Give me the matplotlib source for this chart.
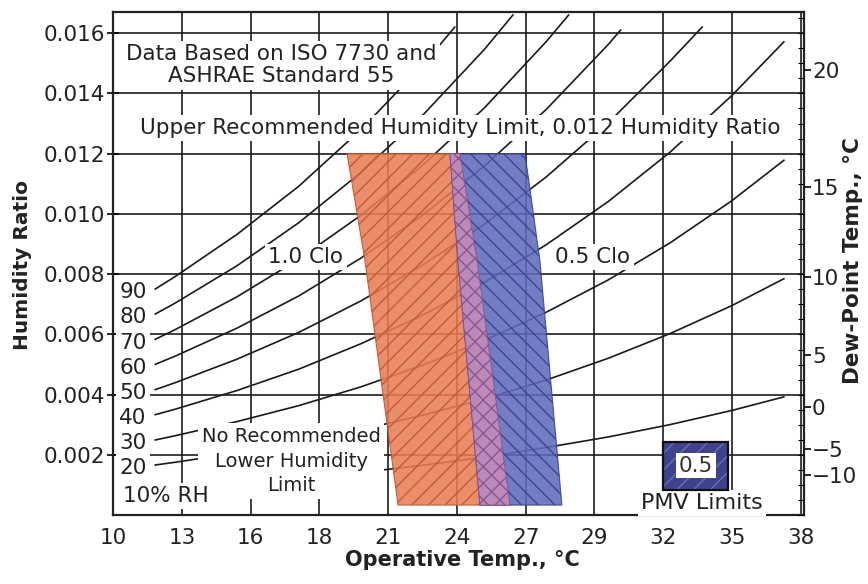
import matplotlib.pyplot as plt
from matplotlib.patches import Polygon, Rectangle
from matplotlib.ticker import MultipleLocator

plt.rcParams['font.family'] = ['DejaVu Sans']
plt.rcParams['hatch.linewidth'] = 1.0

# x grid is the 50..100 F grid, labelled in rounded deg C
x_ticks = [10, 12.78, 15.56, 18.33, 21.11, 23.89, 26.67, 29.44, 32.22, 35, 37.78]
x_labels = ["10", "13", "16", "18", "21", "24", "27", "29", "32", "35", "38"]
y_ticks = [0.002, 0.004, 0.006, 0.008, 0.010, 0.012, 0.014, 0.016]

# dew-point scale on the right (humidity ratio at each label)
dew_labels = ["20", "15", "10", "5", "0", "\u22125", "\u221210"]
dew_pos = [0.01477, 0.01089, 0.00790, 0.00532, 0.00359, 0.00219, 0.00133]

# relative humidity curves (temp C, humidity ratio)
T_full = [11.7, 12.5, 15, 17.5, 20, 22.5, 25, 27.5, 30, 32.5, 35, 37.1]
rh90_T = [11.7, 12.5, 15, 17.5, 20, 22.5, 23.8]
rh90_W = [0.00751, 0.00792, 0.00932, 0.01092, 0.01279, 0.01493, 0.01620]
rh80_T = [11.7, 12.5, 15, 17.5, 20, 22.5, 25, 26.15]
rh80_W = [0.00668, 0.00704, 0.00828, 0.00971, 0.01137, 0.01327, 0.01546, 0.01660]
rh70_T = [11.7, 12.5, 15, 17.5, 20, 22.5, 25, 27.5, 28.4]
rh70_W = [0.00584, 0.00616, 0.00725, 0.00850, 0.00995, 0.01161, 0.01352, 0.01572, 0.01660]
rh60_T = [11.7, 12.5, 15, 17.5, 20, 22.5, 25, 27.5, 30, 30.5]
rh60_W = [0.00501, 0.00528, 0.00621, 0.00728, 0.00853, 0.00996, 0.01159, 0.01347, 0.01562, 0.01610]
rh50_T = [11.7, 12.5, 15, 17.5, 20, 22.5, 25, 27.5, 30, 32.5, 33.8]
rh50_W = [0.00417, 0.00440, 0.00518, 0.00607, 0.00711, 0.00830, 0.00966, 0.01123, 0.01302, 0.01507, 0.01620]
rh40_W = [0.00334, 0.00352, 0.00414, 0.00485, 0.00569, 0.00664, 0.00773, 0.00898, 0.01041, 0.01205, 0.01393, 0.01571]
rh30_W = [0.00250, 0.00264, 0.00311, 0.00364, 0.00426, 0.00498, 0.00580, 0.00674, 0.00781, 0.00904, 0.01044, 0.01178]
rh20_W = [0.00167, 0.00176, 0.00207, 0.00243, 0.00284, 0.00332, 0.00386, 0.00449, 0.00521, 0.00603, 0.00696, 0.00785]
rh10_W = [0.00083, 0.00088, 0.00104, 0.00121, 0.00142, 0.00166, 0.00193, 0.00225, 0.00260, 0.00301, 0.00348, 0.00393]

rh_names = ["90", "80", "70", "60", "50", "40", "30", "20"]
rh_label_W = [0.00740, 0.00658, 0.00571, 0.00488, 0.00405, 0.00322, 0.00239, 0.00156]

# comfort zones: edge temperatures at each humidity level
zone_W = [0.012, 0.00846, 0.00034]
clo10_left = [19.45, 20.17, 21.51]
clo10_right = [24.01, 24.70, 26.03]
clo05_left = [23.61, 23.93, 24.82]
clo05_right = [26.64, 27.24, 28.13]

fig = plt.figure(figsize=(8.68, 5.84), dpi=100)
ax = fig.add_axes([0.1304, 0.1176, 0.7955, 0.8618])
ax.set_xlim(10, 37.9)
ax.set_ylim(0, 0.0167)

ax.set_xticks(x_ticks)
ax.set_xticklabels(x_labels)
ax.set_yticks(y_ticks)
ax.set_yticklabels(["%.3f" % v for v in y_ticks])
ax.grid(True, color="#1c1c1c", lw=1.2)
ax.set_axisbelow(True)
ax.tick_params(axis="x", length=0, pad=9, labelsize=15.5, labelcolor="#222222")
ax.tick_params(axis="y", direction="inout", length=8, width=1.2, pad=2,
               labelsize=15.5, labelcolor="#222222")
for s in ax.spines.values():
    s.set_linewidth(1.6)
    s.set_color("#222222")

# RH lines
lines = [(rh90_T, rh90_W), (rh80_T, rh80_W), (rh70_T, rh70_W), (rh60_T, rh60_W),
         (rh50_T, rh50_W), (T_full, rh40_W), (T_full, rh30_W), (T_full, rh20_W),
         (T_full, rh10_W)]
for tt, ww in lines:
    ax.plot(tt, ww, color="#1a1a1a", lw=1.2, zorder=2)

# zones
def zone(left, right):
    return list(zip(left, zone_W)) + list(zip(right[::-1], zone_W[::-1]))

ax.add_patch(Polygon(zone(clo10_left, clo10_right), closed=True, fc="#E87D55",
                     ec="#C0532E", hatch="//", lw=0.8, alpha=0.88, zorder=3))
ax.add_patch(Polygon(zone(clo05_left, clo05_right), closed=True, fc="#5F6BBB",
                     ec="#363F8C", hatch="\\\\", lw=0.8, alpha=0.88, zorder=3))
ax.add_patch(Polygon(zone(clo05_left, clo10_right), closed=True, fc="#C48EBB",
                     ec="#86528C", hatch="xx", lw=0.6, alpha=0.9, zorder=4))

box = dict(boxstyle="square,pad=0.15", fc="white", ec="none")
tk = dict(fontsize=15.5, color="#222222", zorder=6, bbox=box)

ax.text(16.78, 0.01494, "Data Based on ISO 7730 and\nASHRAE Standard 55",
        ha="center", va="center", linespacing=1.15, **tk)
ax.text(24.01, 0.01285, "Upper Recommended Humidity Limit, 0.012 Humidity Ratio",
        ha="center", va="center", **tk)
ax.text(17.79, 0.00857, "1.0 Clo", ha="center", va="center", **tk)
ax.text(29.38, 0.00857, "0.5 Clo", ha="center", va="center", **tk)
ax.text(17.19, 0.00180, "No Recommended\nLower Humidity\nLimit", ha="center",
        va="center", linespacing=1.35,
        fontsize=14, color="#222222", zorder=6,
        bbox=dict(boxstyle="square,pad=0.2", fc="white", ec="none"))
ax.text(10.40, 0.00064, "10% RH", ha="left", va="center", **tk)
for name, w in zip(rh_names, rh_label_W):
    ax.text(10.8, w, name, ha="center", va="center", **tk)

# PMV legend swatch
ax.text(33.79, 0.00041, "PMV Limits", ha="center", va="center", fontsize=16,
        color="#222222", zorder=6, bbox=box)
ax.add_patch(Rectangle((32.22, 0.00084), 2.62, 0.00159, fc="#3E438C",
                       ec="#6670B8", hatch="//", lw=0, zorder=6))
ax.add_patch(Rectangle((32.22, 0.00084), 2.62, 0.00159, fc="none",
                       ec="#111111", lw=1.6, zorder=7))
ax.text(33.55, 0.00164, "0.5", ha="center", va="center", fontsize=15.5,
        color="#333333", zorder=8,
        bbox=dict(boxstyle="square,pad=0.12", fc="white", ec="none"))

# dew-point axis
ax2 = ax.twinx()
ax2.set_ylim(ax.get_ylim())
ax2.set_yticks(dew_pos)
ax2.set_yticklabels(dew_labels)
ax2.yaxis.set_minor_locator(MultipleLocator(0.0005))
ax2.tick_params(axis="y", which="major", direction="out", length=5, width=1.2,
                pad=1, labelsize=15.5, labelcolor="#222222")
ax2.tick_params(axis="y", which="minor", direction="in", length=4, width=0.8)
for s in ax2.spines.values():
    s.set_visible(False)

fig.text(0.533, 0.041, "Operative Temp., \u00b0C", ha="center", va="center",
         fontsize=15, fontweight="bold", color="#222222")
fig.text(0.026, 0.546, "Humidity Ratio", ha="center", va="center", rotation=90,
         fontsize=14.5, fontweight="bold", color="#222222")
fig.text(0.983, 0.553, "Dew-Point Temp., \u00b0C", ha="center", va="center",
         rotation=90, fontsize=15.5, fontweight="bold", color="#222222")

fig.savefig("out.png", dpi=100)
